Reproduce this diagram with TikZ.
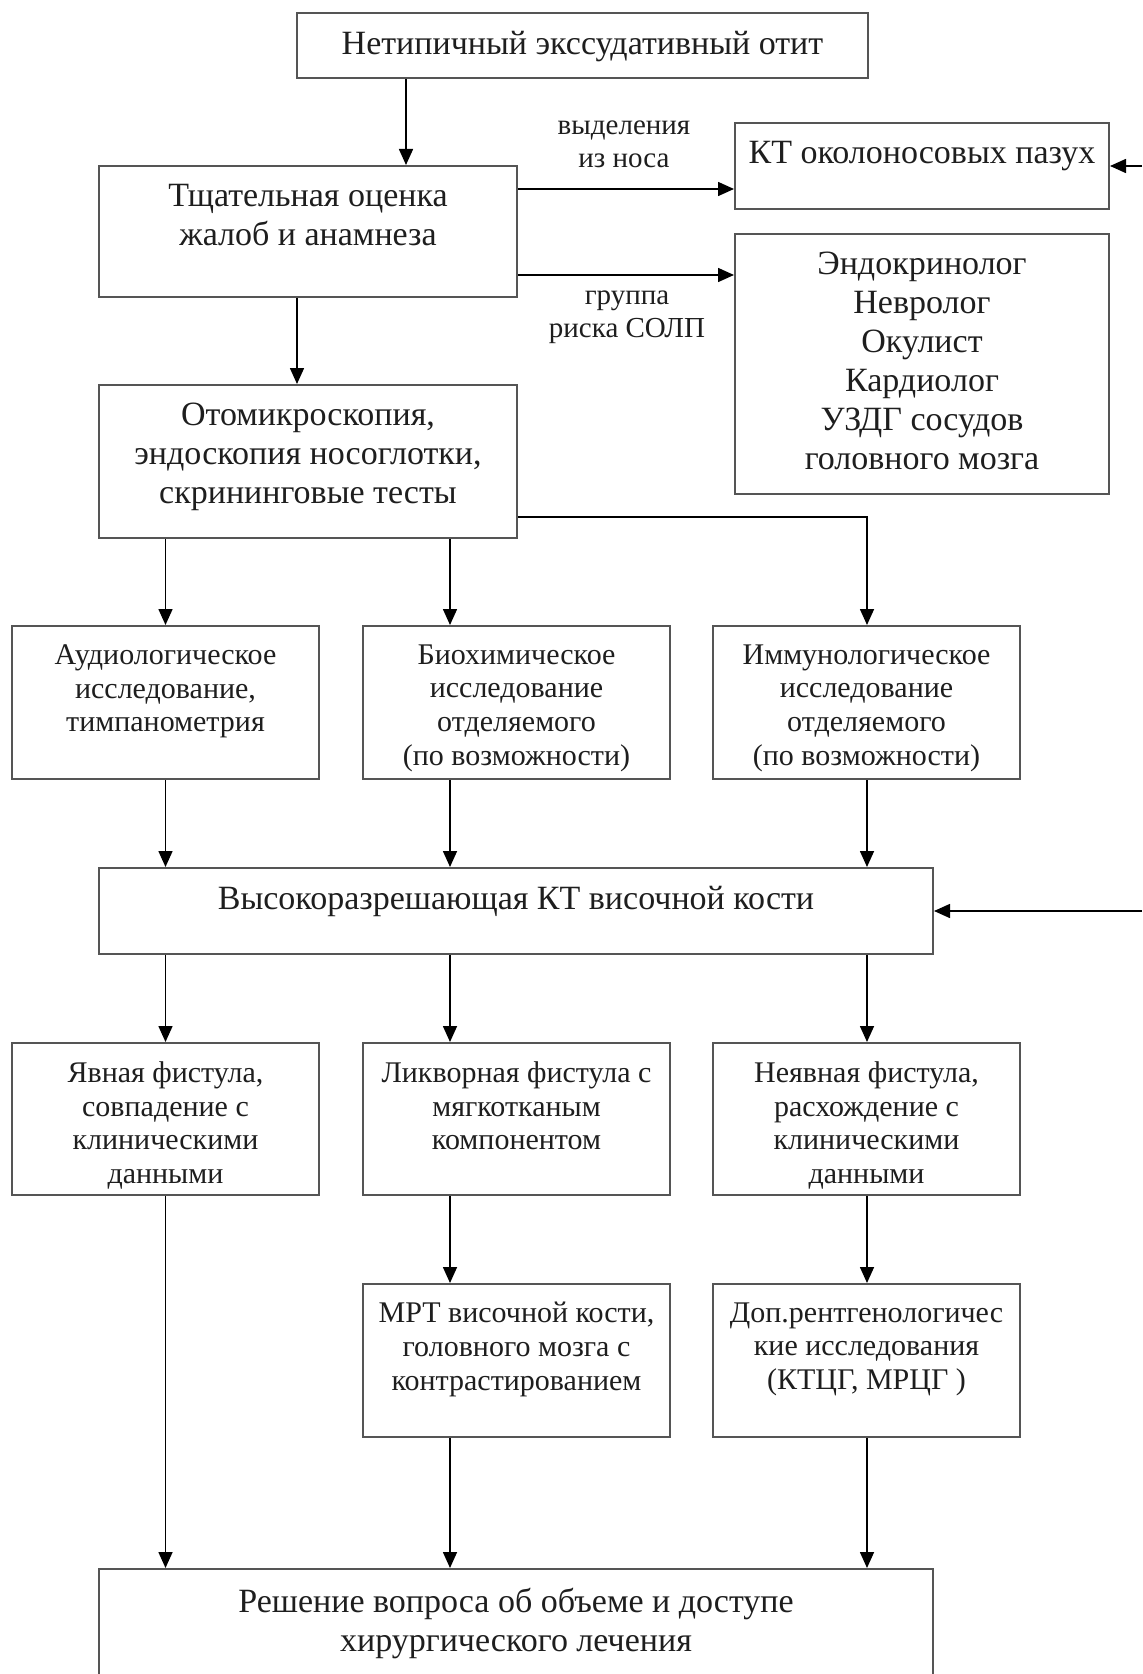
\documentclass[tikz,border=0pt]{standalone}
\usepackage{fontspec}
\setmainfont{Liberation Serif}
\usetikzlibrary{arrows.meta, positioning}
\definecolor{cadreGris}{HTML}{555555}
\definecolor{texteGris}{HTML}{1E1E1E}
\tikzset{
  %% ── Cadres ───────────────────────────────────────────────────────────
  %% Les cadres sont vides ; le texte est pose a part, colle au bord haut.
  cadre/.style      = {draw=cadreGris, line width=1pt, fill=white,
                       inner sep=0pt},
  %%
  %% ── Fleches ──────────────────────────────────────────────────────────
  fleche/.style     = {-{Triangle[length=8pt, width=7pt]}, draw=black,
                       line width=0.8pt},
  %%
  %% ── Texte ────────────────────────────────────────────────────────────
  texte/.style      = {font=\fontsize{17}{19.5}\selectfont, text=texteGris,
                       align=center, inner sep=0pt},
  texteP/.style     = {texte, font=\fontsize{15}{16.9}\selectfont},
  etiquette/.style  = {texte, font=\fontsize{14.5}{16.5}\selectfont},
}

\begin{document}
\begin{tikzpicture}[x=0.5pt, y=-0.5pt]

\useasboundingbox (0,0) rectangle (1142,1674);
\clip (0,0) rectangle (1142,1674);
\fill[white] (0,0) rectangle (1142,1674);

%% Le haut : motif de consultation et premier tri.
\node[cadre, minimum width=285.5pt, minimum height=32.5pt] (otit) at (582.5, 45.5) {};
\node[cadre, minimum width=209pt, minimum height=65.5pt] (tsh) at (308, 231.5) {};
\node[cadre, minimum width=187pt, minimum height=43pt] (ktp) at (922, 166) {};
\node[cadre, minimum width=187pt, minimum height=130pt] (spec) at (922, 364) {};
\node[cadre, minimum width=209pt, minimum height=76.5pt] (oto) at (308, 461.5) {};

\node[texte, below=9.5pt of otit.north] (otitT) {Нетипичный экссудативный отит};
\node[texte, below=9.5pt of tsh.north] (tshT) {Тщательная оценка\\жалоб и анамнеза};
\node[texte, below=9.5pt of ktp.north] (ktpT) {КТ околоносовых пазух};
\node[texte, below=9.5pt of spec.north] (specT)
     {Эндокринолог\\Невролог\\Окулист\\Кардиолог\\УЗДГ сосудов\\головного мозга};
\node[texte, below=9.5pt of oto.north] (otoT)
     {Отомикроскопия,\\эндоскопия носоглотки,\\скрининговые тесты};

%% Les trois examens.
\node[cadre, minimum width=153.5pt, minimum height=76.5pt] (aud) at (165.5, 702.5) {};
\node[cadre, minimum width=153.5pt, minimum height=76.5pt] (bio) at (516.5, 702.5) {};
\node[cadre, minimum width=153.5pt, minimum height=76.5pt] (imm) at (866.5, 702.5) {};

\node[texteP, below=9.5pt of aud.north] (audT)
     {Аудиологическое\\исследование,\\тимпанометрия};
\node[texteP, below=9.5pt of bio.north] (bioT)
     {Биохимическое\\исследование\\отделяемого\\(по возможности)};
\node[texteP, below=9.5pt of imm.north] (immT)
     {Иммунологическое\\исследование\\отделяемого\\(по возможности)};

%% Le scanner et ses trois issues.
\node[cadre, minimum width=417pt, minimum height=43pt] (ktv) at (516, 911) {};
\node[texte, below=9.5pt of ktv.north] (ktvT) {Высокоразрешающая КТ височной кости};

\node[cadre, minimum width=153.5pt, minimum height=76pt] (yav) at (165.5, 1119) {};
\node[cadre, minimum width=153.5pt, minimum height=76pt] (lik) at (516.5, 1119) {};
\node[cadre, minimum width=153.5pt, minimum height=76pt] (neya) at (866.5, 1119) {};
\node[cadre, minimum width=153.5pt, minimum height=76.5pt] (mrt) at (516.5, 1360.5) {};
\node[cadre, minimum width=153.5pt, minimum height=76.5pt] (dop) at (866.5, 1360.5) {};

\node[texteP, below=9.5pt of yav.north] (yavT)
     {Явная фистула,\\совпадение с\\клиническими\\данными};
\node[texteP, below=9.5pt of lik.north] (likT)
     {Ликворная фистула с\\мягкотканым\\компонентом};
\node[texteP, below=9.5pt of neya.north] (neyaT)
     {Неявная фистула,\\расхождение с\\клиническими\\данными};
\node[texteP, below=9.5pt of mrt.north] (mrtT)
     {МРТ височной кости,\\головного мозга с\\контрастированием};
\node[texteP, below=9.5pt of dop.north] (dopT)
     {Доп.рентгенологичес\\кие исследования\\(КТЦГ, МРЦГ )};

\node[cadre, minimum width=417pt, minimum height=75.5pt] (resh) at (516, 1644.5) {};
\node[texte, below=10pt of resh.north] (reshT)
     {Решение вопроса об объеме и доступе\\хирургического лечения};

%% Reperes pour les fleches hors axe.
\coordinate (colT) at (406, 0);
\coordinate (colO) at (297, 0);
\coordinate (colA) at (165.5, 0);
\coordinate (colB) at (450, 0);
\coordinate (colC) at (867, 0);
\coordinate (ligNez) at (0, 189);
\coordinate (ligRisque) at (0, 275);
\coordinate (ligImm) at (0, 517);
\coordinate (bordNez) at (1142, 166);
\coordinate (bordKtv) at (1142, 911);

\draw[fleche] (otit.south -| colT) -- (tsh.north -| colT);
\draw[fleche] (tsh.south -| colO) -- (oto.north -| colO);
\draw[fleche] (tsh.east |- ligNez) -- (ktp.west |- ligNez);
\draw[fleche] (tsh.east |- ligRisque) -- (spec.west |- ligRisque);
\draw[fleche] (bordNez) -- (ktp.east);
\draw[fleche] (bordKtv) -- (ktv.east);

\node[etiquette] (lblNez) at (624, 144.5) {выделения\\из носа};
\node[etiquette] (lblRisque) at (627, 317) {группа\\риска СОЛП};

\draw[fleche] (oto.south -| colA) -- (aud.north -| colA);
\draw[fleche] (oto.south -| colB) -- (bio.north -| colB);
\draw[fleche] (oto.east |- ligImm) -| (imm.north -| colC);

\foreach \haut/\bas/\col in {aud/ktv/colA, bio/ktv/colB, imm/ktv/colC,
                             ktv/yav/colA, ktv/lik/colB, ktv/neya/colC,
                             lik/mrt/colB, neya/dop/colC,
                             yav/resh/colA, mrt/resh/colB, dop/resh/colC}
  \draw[fleche] (\haut.south -| \col) -- (\bas.north -| \col);

\end{tikzpicture}
\end{document}
